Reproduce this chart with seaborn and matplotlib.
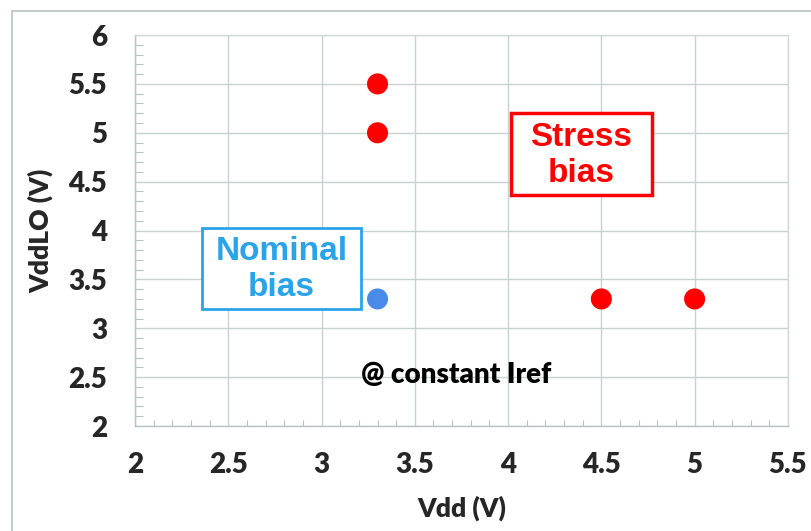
import pandas as pd
import matplotlib.pyplot as plt
import seaborn as sns
from matplotlib.ticker import MultipleLocator
from matplotlib.lines import Line2D
from matplotlib.patches import Rectangle

# Data
vdd = [3.3, 3.3, 3.3, 4.5, 5.0]
vddlo = [3.3, 5.5, 5.0, 3.3, 3.3]
bias = ['Nominal', 'Stress', 'Stress', 'Stress', 'Stress']

x_ticks = [2, 2.5, 3, 3.5, 4, 4.5, 5, 5.5]
y_ticks = [2, 2.5, 3, 3.5, 4, 4.5, 5, 5.5, 6]

blue = '#2BA3E8'
dot_blue = '#4A8BEA'
red = '#FF0000'

df = pd.DataFrame({'Vdd': vdd, 'VddLO': vddlo, 'Bias': bias})

sns.set_style('white')
plt.rcParams['font.family'] = ['Lato', 'DejaVu Sans']

fig = plt.figure(figsize=(8.11, 5.31), dpi=100)
ax = fig.add_axes([0.1665, 0.1977, 0.805, 0.7363])

sns.scatterplot(data=df, x='Vdd', y='VddLO', hue='Bias',
                palette={'Nominal': dot_blue, 'Stress': red},
                s=230, linewidth=0, legend=False, ax=ax, zorder=3)

ax.set_xlim(2, 5.5)
ax.set_ylim(2, 6)
ax.set_xticks(x_ticks)
ax.set_yticks(y_ticks)
ax.set_xticklabels([f'{t:g}' for t in x_ticks], fontweight='heavy', fontsize=20)
ax.set_yticklabels([f'{t:g}' for t in y_ticks], fontweight='heavy', fontsize=20)
ax.xaxis.set_minor_locator(MultipleLocator(0.1))
ax.yaxis.set_minor_locator(MultipleLocator(0.1))

ax.grid(True, which='major', color='#C9D2D2', linewidth=1)
ax.tick_params(which='major', length=0)
ax.tick_params(axis='y', which='major', pad=20)
ax.tick_params(axis='x', which='major', pad=19)
ax.tick_params(axis='x', which='minor', bottom=True, direction='in', length=4,
               color='#B8C2C2', width=0.8)
ax.tick_params(axis='y', which='minor', left=True, direction='in', length=6,
               color='#B8C2C2', width=0.8)
for sp in ax.spines.values():
    sp.set_color('#D3D9D9')
    sp.set_linewidth(1)
ax.spines['bottom'].set_color('#B8C2C2')
ax.spines['left'].set_color('#B8C2C2')

ax.set_xlabel('Vdd (V)', fontsize=19, fontweight='heavy', labelpad=12)
ax.set_ylabel('VddLO (V)', fontsize=19, fontweight='heavy', labelpad=11)

# annotation boxes
box_font = ['Liberation Sans', 'DejaVu Sans']
ax.add_patch(Rectangle((2.36, 3.20), 0.85, 0.83, fc='white', ec=blue, lw=2, zorder=4))
ax.add_patch(Rectangle((4.015, 4.36), 0.755, 0.84, fc='white', ec=red, lw=2.5, zorder=4))
ax.text(2.785, 3.60, 'Nominal\nbias', color=blue, fontsize=24, fontweight='bold',
        family=box_font, ha='center', va='center', zorder=5)
ax.text(4.39, 4.77, 'Stress\nbias', color=red, fontsize=24, fontweight='bold',
        family=box_font, ha='center', va='center', zorder=5)
ax.text(3.72, 2.52, '@ constant Iref', fontsize=20, fontweight='heavy',
        ha='center', va='center', color='black', zorder=5)

# outer chart-area border
fig.add_artist(Line2D([12 / 811, 12 / 811], [0, 1 - 11 / 531], color='#C6CCCC', lw=1.5))
fig.add_artist(Line2D([12 / 811, 1], [1 - 11 / 531, 1 - 11 / 531], color='#C6CCCC', lw=1.5))

fig.savefig('out.png', dpi=100)
